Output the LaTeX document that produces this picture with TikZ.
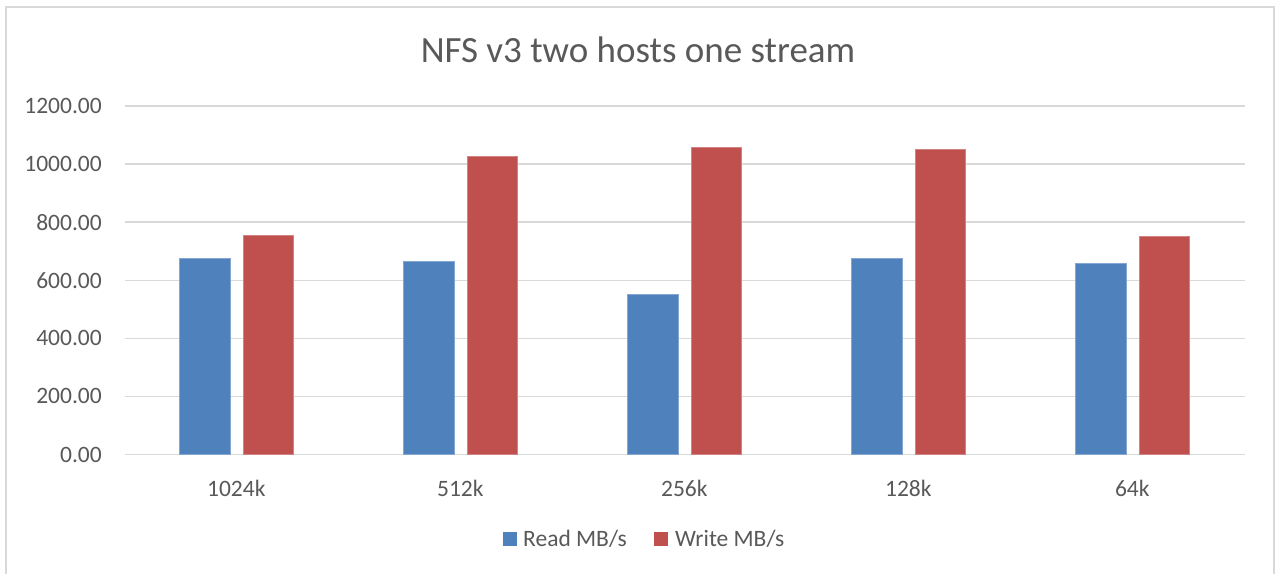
\documentclass[tikz,border=0pt]{standalone}
\usepackage{fontspec}
\setmainfont{Carlito}
\definecolor{txt}{HTML}{595959}
\definecolor{gridc}{HTML}{D9D9D9}
\definecolor{readc}{HTML}{4F81BD}
\definecolor{writec}{HTML}{C0504D}
\begin{document}
\begin{tikzpicture}[x=1pt,y=-1pt,
  lbl/.style={text=txt,font=\fontsize{23.5}{28}\selectfont,inner sep=0pt},
  gridline/.style={draw=gridc,line width=1.4pt},
  readbar/.style={fill=readc,draw=readc!70!white,line width=0.6pt},
  writebar/.style={fill=writec,draw=writec!70!white,line width=0.6pt}]
\useasboundingbox (0,0) rectangle (1282,573);
\fill[white] (0,0) rectangle (1282,573);
\draw[draw=gridc,line width=1.5pt] (6,7) rectangle (1274,590);
% title
\node[text=txt,font=\fontsize{37}{44}\selectfont,inner sep=0pt] (title) at (638,50) {NFS v3 two hosts one stream};
% grid and axis labels
\foreach \v/\t [count=\k] in {0/0.00,200/200.00,400/400.00,600/600.00,800/800.00,1000/1000.00,1200/1200.00}{
  \pgfmathsetmacro{\yy}{454.5-\v*0.2904}
  \draw[gridline] (125,\yy) -- (1245,\yy);
  \node[lbl,anchor=east] (ylab\k) at (102,\yy) {\t};
}
% bars
\foreach \r/\w/\c [count=\i from 0] in {674/755/1024k,667/1028/512k,553/1058/256k,674/1052/128k,660/750/64k}{
  \pgfmathsetmacro{\cx}{236.3+224*\i}
  \pgfmathsetmacro{\yr}{454.5-\r*0.2904}
  \pgfmathsetmacro{\yw}{454.5-\w*0.2904}
  \path[readbar] (\cx-57,454.5) rectangle (\cx-6.3,\yr);
  \path[writebar] (\cx+7,454.5) rectangle (\cx+57,\yw);
  \node[lbl] (cat\i) at (\cx,488) {\c};
}
% legend
\fill[readc] (502.7,532) rectangle (516.7,546);
\node[lbl,anchor=west] (legread) at (523,539) {Read MB/s};
\fill[writec] (654,532) rectangle (668,546);
\node[lbl,anchor=west] (legwrite) at (675,539) {Write MB/s};
\end{tikzpicture}
\end{document}
